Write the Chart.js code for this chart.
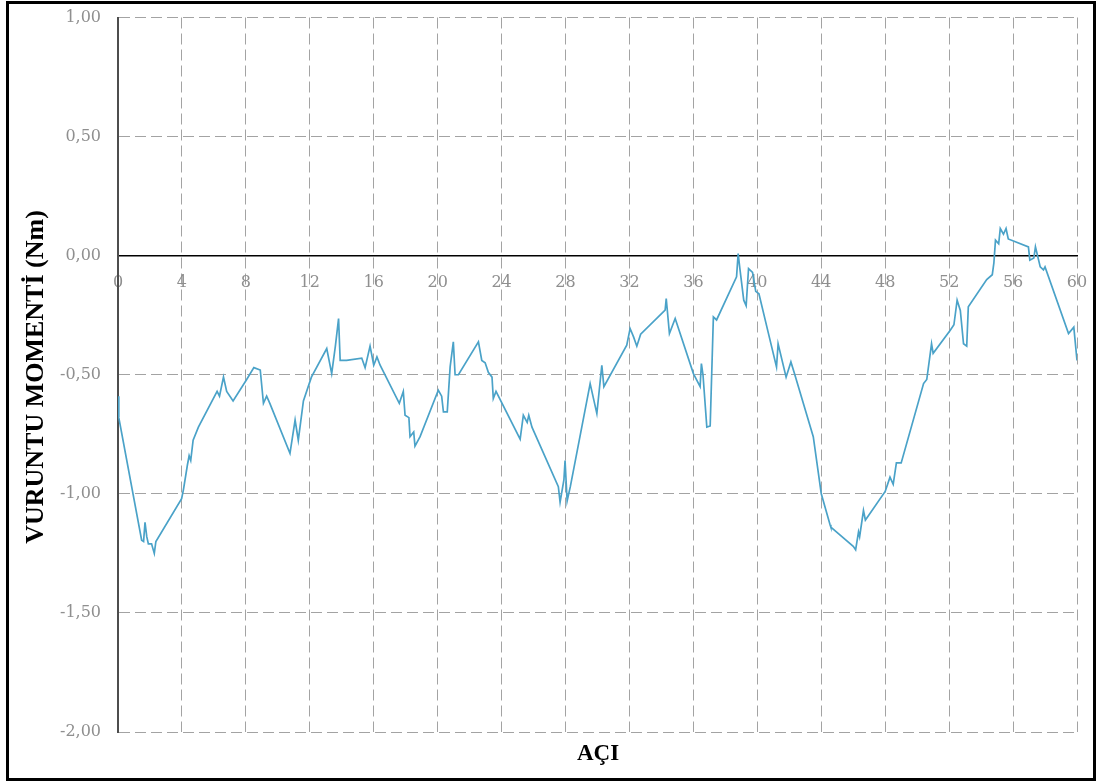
<!DOCTYPE html>
<html>
<head>
<meta charset="utf-8">
<script src="https://cdn.jsdelivr.net/npm/chart.js@4.4.1/dist/chart.umd.min.js"></script>
<style>
  html, body { margin: 0; padding: 0; background: #fff; }
  #wrap { position: relative; width: 1096px; height: 784px; overflow: hidden; }
  #frame { position: absolute; left: 6px; top: 1px; width: 1084px; height: 774px; border: 3px solid #000; pointer-events: none; }
  #c { position: absolute; left: 0; top: 0; }
  .ttl { position: absolute; font-family: "Liberation Serif", "Times New Roman", serif; font-weight: bold; color: #000; white-space: nowrap; }
  #ytitle { left: 35px; top: 377px; font-size: 26px; transform: translate(-50%, -50%) rotate(-90deg); }
  #xtitle { left: 598px; top: 753px; font-size: 23px; transform: translate(-50%, -50%); }
</style>
</head>
<body>
<div id="wrap">
  <canvas id="c" width="1096" height="784"></canvas>
  <div id="frame"></div>
  <div class="ttl" id="ytitle">VURUNTU MOMENTİ (Nm)</div>
  <div class="ttl" id="xtitle">AÇI</div>
</div>
<script>
// ---- data ----
const angles = [
  0.00, 0.05, 1.48, 1.60, 1.69, 1.80, 1.90, 2.10, 2.27, 2.37,
  3.98, 4.10, 4.34, 4.45, 4.55, 4.70, 5.03, 6.20, 6.35, 6.60,
  6.80, 7.20, 8.05, 8.50, 8.90, 9.10, 9.30, 9.50, 10.76, 11.08,
  11.28, 11.60, 12.10, 13.06, 13.37, 13.60, 13.80, 13.90, 14.30, 15.25,
  15.46, 15.77, 16.00, 16.20, 16.40, 17.60, 17.85, 17.96, 18.20, 18.27,
  18.50, 18.58, 18.90, 20.04, 20.25, 20.36, 20.60, 20.78, 20.98, 21.09,
  21.30, 22.55, 22.76, 22.97, 23.17, 23.40, 23.48, 23.65, 25.16, 25.36,
  25.60, 25.70, 25.90, 27.55, 27.66, 27.90, 27.97, 28.10, 28.30, 29.54,
  29.96, 30.27, 30.40, 31.83, 32.04, 32.25, 32.46, 32.70, 34.23, 34.30,
  34.50, 34.86, 36.00, 36.42, 36.50, 36.60, 36.84, 37.05, 37.25, 37.45,
  38.70, 38.80, 38.90, 39.15, 39.30, 39.45, 39.70, 39.90, 40.10, 40.60,
  41.20, 41.30, 41.80, 42.10, 42.30, 43.50, 44.00, 44.55, 44.60, 46.00,
  46.15, 46.33, 46.40, 46.64, 46.76, 46.97, 48.00, 48.30, 48.50, 48.70,
  49.00, 50.40, 50.60, 50.90, 51.00, 52.07, 52.30, 52.50, 52.70, 52.90,
  53.10, 53.20, 54.35, 54.70, 54.80, 54.90, 55.10, 55.20, 55.40, 55.56,
  55.70, 56.96, 57.05, 57.30, 57.40, 57.70, 57.90, 58.00, 59.47, 59.80,
  60.00
];
const moments = [
  -0.59, -0.68, -1.195, -1.20, -1.12, -1.18, -1.21, -1.21, -1.25, -1.20,
  -1.02, -0.98, -0.88, -0.84, -0.86, -0.775, -0.72, -0.57, -0.59, -0.51,
  -0.57, -0.61, -0.52, -0.47, -0.48, -0.62, -0.59, -0.62, -0.83, -0.69,
  -0.775, -0.61, -0.51, -0.39, -0.495, -0.38, -0.264, -0.44, -0.44, -0.43,
  -0.47, -0.38, -0.46, -0.425, -0.46, -0.62, -0.57, -0.67, -0.68, -0.76,
  -0.74, -0.80, -0.76, -0.565, -0.59, -0.656, -0.656, -0.467, -0.362, -0.50,
  -0.50, -0.362, -0.44, -0.45, -0.49, -0.51, -0.60, -0.57, -0.77, -0.67,
  -0.70, -0.67, -0.72, -0.97, -1.035, -0.94, -0.86, -1.03, -0.97, -0.537,
  -0.663, -0.46, -0.55, -0.376, -0.306, -0.34, -0.38, -0.33, -0.229, -0.18,
  -0.327, -0.264, -0.495, -0.55, -0.453, -0.50, -0.72, -0.715, -0.257, -0.27,
  -0.089, 0.009, -0.05, -0.187, -0.21, -0.054, -0.07, -0.15, -0.16, -0.30,
  -0.467, -0.37, -0.51, -0.446, -0.49, -0.76, -1.00, -1.13, -1.14, -1.22,
  -1.235, -1.16, -1.18, -1.07, -1.11, -1.09, -0.99, -0.93, -0.96, -0.87,
  -0.87, -0.537, -0.52, -0.37, -0.41, -0.313, -0.29, -0.187, -0.23, -0.37,
  -0.38, -0.215, -0.10, -0.08, -0.03, 0.065, 0.05, 0.114, 0.09, 0.114,
  0.07, 0.037, -0.019, -0.01, 0.037, -0.047, -0.06, -0.047, -0.327, -0.30,
  -0.44
];
const xTickValues = [0, 4, 8, 12, 16, 20, 24, 28, 32, 36, 40, 44, 48, 52, 56, 60];
const xTickLabels = ['0', '4', '8', '12', '16', '20', '24', '28', '32', '36', '40', '44', '48', '52', '56', '60'];
const yTickValues = [1, 0.5, 0, -0.5, -1, -1.5, -2];
const yTickLabels = ['1,00', '0,50', '0,00', '-0,50', '-1,00', '-1,50', '-2,00'];

const points = angles.map((a, i) => ({ x: a, y: moments[i] }));
const tickFont = { family: '"DejaVu Serif", serif', size: 16 };
const gridColor = '#a3a3a3';
const zeroPad = s => { s.paddingTop = 0; s.paddingBottom = 0; s.paddingLeft = 0; s.paddingRight = 0; };

new Chart(document.getElementById('c'), {
  type: 'line',
  data: {
    datasets: [{
      data: points,
      borderColor: '#4aa2c8',
      borderWidth: 1.7,
      pointRadius: 0,
      tension: 0,
      fill: false
    }]
  },
  options: {
    responsive: false,
    animation: false,
    devicePixelRatio: 1,
    layout: { padding: { left: 0, top: 17.5, right: 19, bottom: 52 } },
    plugins: { legend: { display: false }, tooltip: { enabled: false } },
    scales: {
      x: {
        type: 'linear',
        min: 0, max: 60,
        position: { y: 0 },
        afterFit: zeroPad,
        afterBuildTicks: s => { s.ticks = xTickValues.map(v => ({ value: v })); },
        ticks: {
          color: '#8f8f8f', font: tickFont, padding: 18, maxRotation: 0, autoSkip: false,
          callback: v => xTickLabels[xTickValues.indexOf(v)]
        },
        grid: { color: gridColor, lineWidth: 1, drawTicks: false },
        border: { display: true, color: '#000', width: 1.5, dash: [11, 5] }
      },
      y: {
        type: 'linear',
        min: -2, max: 1,
        position: 'left',
        afterFit: s => { s.width = 118; zeroPad(s); },
        afterBuildTicks: s => { s.ticks = yTickValues.map(v => ({ value: v })); },
        ticks: {
          color: '#8f8f8f', font: tickFont, padding: 17,
          callback: v => yTickLabels[yTickValues.indexOf(v)]
        },
        grid: { color: gridColor, lineWidth: 1, drawTicks: false },
        border: { display: true, color: '#4d4d4d', width: 2, dash: [11, 5] }
      }
    }
  }
});
</script>
</body>
</html>
